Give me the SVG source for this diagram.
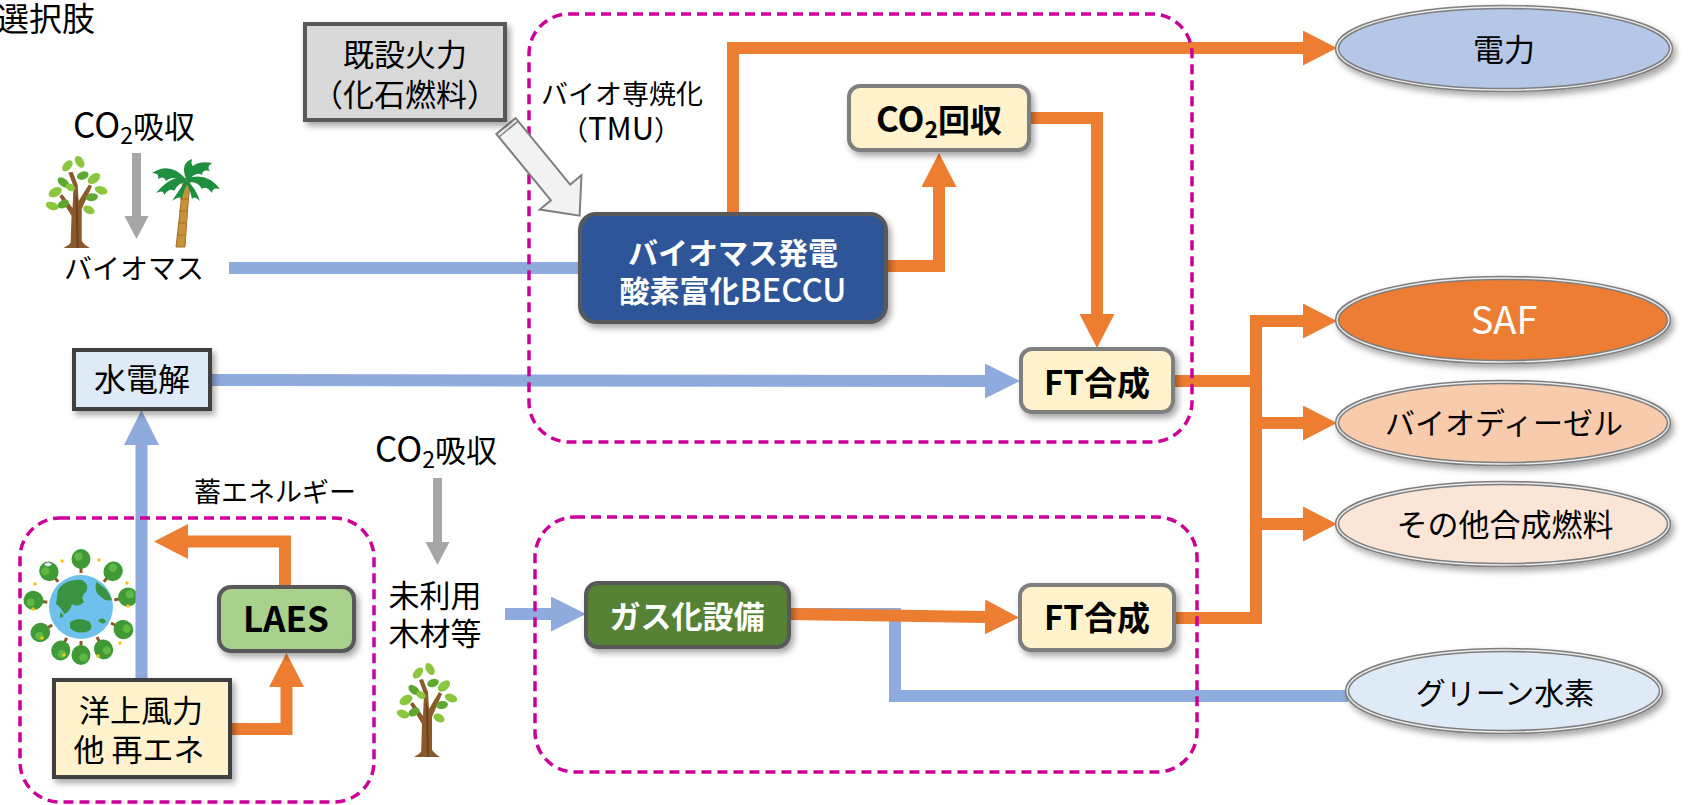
<svg xmlns="http://www.w3.org/2000/svg" xmlns:xlink="http://www.w3.org/1999/xlink" width="1688" height="805" viewBox="0 0 1688 805">
  <style>
    text { font-family: "Noto Sans CJK JP", "Noto Sans", sans-serif; fill: #000; }
    .c { text-anchor: middle; }
    .b { font-weight: bold; }
    .w { fill: #fff; }
    .or { fill: none; stroke: #ed7d31; stroke-width: 12; }
    .bl { fill: none; stroke: #8faadc; stroke-width: 12; }
    .gr { fill: none; stroke: #a6a6a6; stroke-width: 9; }
    .zone { fill: none; stroke: #cc0099; stroke-width: 3.5; stroke-dasharray: 10 6; }
    .box { stroke: #595959; stroke-width: 4; filter: url(#sh); }
    .boxk { stroke: #404040; stroke-width: 4; filter: url(#sh); }
    .boxg { stroke: #7f7f7f; stroke-width: 4; filter: url(#sh); }
    .ell { stroke: #7f7f7f; stroke-width: 4.5; filter: url(#sh); }
    .ell2 { fill: none; stroke: #ececec; stroke-width: 1.4; }
    .leaf { fill: #8cc63f; }
    .leafd { fill: #5fa830; }
    .trunk { fill: #8b5a2b; }
  </style>
  <defs>
    <filter id="sh" x="-20%" y="-20%" width="140%" height="150%">
      <feDropShadow dx="3" dy="4" stdDeviation="3" flood-color="#000" flood-opacity="0.35"/>
    </filter>
    <marker id="hOr" markerUnits="userSpaceOnUse" markerWidth="36" markerHeight="36" refX="0" refY="17.5" orient="auto">
      <path d="M0,0 L34,17.5 L0,35 Z" fill="#ed7d31"/>
    </marker>
    <marker id="hBl" markerUnits="userSpaceOnUse" markerWidth="36" markerHeight="36" refX="0" refY="17.5" orient="auto">
      <path d="M0,0 L35,17.5 L0,35 Z" fill="#8faadc"/>
    </marker>
    <marker id="hGr" markerUnits="userSpaceOnUse" markerWidth="26" markerHeight="26" refX="0" refY="12" orient="auto">
      <path d="M0,0 L23,12 L0,24 Z" fill="#a6a6a6"/>
    </marker>
    <!-- broadleaf sapling, 60 x 95 -->
    <g id="tree">
      <path class="trunk" d="M24,95 L25,62 L13,42 L16,40 L26,54 L27,32 L22,18 L26,17 L31,30 L32,47 L42,30 L45,32 L35,55 L35,95 Z"/>
      <path class="trunk" d="M17,95 Q27,90 29,80 L32,80 Q34,90 43,95 Z"/>
      <path fill="#6b4220" d="M29,40 L30,95 L32,95 L31,45 Z"/>
      <ellipse class="leaf" cx="9" cy="38" rx="7" ry="4.5" transform="rotate(-30 9 38)"/>
      <ellipse class="leafd" cx="17" cy="28" rx="6.5" ry="4" transform="rotate(40 17 28)"/>
      <ellipse class="leaf" cx="21" cy="11" rx="6.5" ry="4" transform="rotate(-50 21 11)"/>
      <ellipse class="leaf" cx="33" cy="7" rx="6.5" ry="4" transform="rotate(60 33 7)"/>
      <ellipse class="leafd" cx="36" cy="21" rx="6" ry="4" transform="rotate(-20 36 21)"/>
      <ellipse class="leaf" cx="47" cy="24" rx="7" ry="4.5" transform="rotate(-40 47 24)"/>
      <ellipse class="leaf" cx="54" cy="36" rx="6.5" ry="4" transform="rotate(20 54 36)"/>
      <ellipse class="leafd" cx="45" cy="43" rx="6" ry="4" transform="rotate(-10 45 43)"/>
      <ellipse class="leaf" cx="6" cy="52" rx="6.5" ry="4" transform="rotate(20 6 52)"/>
      <ellipse class="leafd" cx="17" cy="50" rx="6" ry="4" transform="rotate(-30 17 50)"/>
      <ellipse class="leaf" cx="42" cy="56" rx="6" ry="4" transform="rotate(30 42 56)"/>
      <ellipse class="leaf" cx="24" cy="33" rx="5" ry="3.5" transform="rotate(30 24 33)"/>
    </g>
    <!-- palm, 70 x 88 -->
    <g id="palm">
      <path d="M26,88 Q30,55 33,22 L40,22 Q37,55 35,88 Z" fill="#c8923a" stroke="#a36f24" stroke-width="1"/>
      <path d="M30,40 L38,40 M29,52 L37,52 M28,64 L36,64 M27,76 L36,76" stroke="#a36f24" stroke-width="1.2"/>
      <g fill="#1e8f3e">
        <path d="M36,20 Q20,2 2,14 Q10,14 8,20 Q14,16 16,22 Q22,16 36,22 Z"/>
        <path d="M36,20 Q24,14 6,34 Q14,30 14,36 Q20,28 24,32 Q28,24 36,23 Z"/>
        <path d="M36,20 Q40,0 62,4 Q56,8 60,12 Q52,10 52,16 Q46,12 38,22 Z"/>
        <path d="M36,20 Q56,12 70,30 Q62,28 62,34 Q56,26 52,30 Q48,22 38,23 Z"/>
        <path d="M36,20 Q30,4 42,0 Q40,8 46,8 Q38,12 38,22 Z"/>
        <path d="M36,21 Q30,30 22,42 Q30,36 32,40 Q34,30 38,24 Z"/>
        <path d="M37,21 Q46,30 50,42 Q44,36 42,40 Q40,30 36,24 Z"/>
      </g>
    </g>
    <!-- small tree around the globe, stem pointing down toward the globe -->
    <g id="gtree">
      <rect x="8" y="12" width="3" height="11" fill="#8b5a2b"/>
      <ellipse cx="9.5" cy="9" rx="9.5" ry="10" fill="#3f9a36"/>
      <ellipse cx="7" cy="6.5" rx="4" ry="4" fill="#62b845"/>
    </g>
  </defs>

  <!-- title -->
  <text x="-4" y="31" font-size="33">選択肢</text>

  <!-- pictures -->
  <g id="pics">
    <use xlink:href="#tree" transform="translate(46,155) scale(1.02,0.98)"/>
    <use xlink:href="#palm" transform="translate(150,159)"/>
    <use xlink:href="#tree" transform="translate(397,662)"/>
    <g id="globe">
      <use xlink:href="#gtree" transform="translate(71.5,550)"/>
      <use xlink:href="#gtree" transform="rotate(-42 81 607) translate(71.5,550)"/>
      <use xlink:href="#gtree" transform="rotate(42 81 607) translate(71.5,550)"/>
      <use xlink:href="#gtree" transform="rotate(-82 81 607) translate(71.5,550)"/>
      <use xlink:href="#gtree" transform="rotate(78 81 607) translate(71.5,550)"/>
      <use xlink:href="#gtree" transform="rotate(-122 81 607) translate(71.5,550)"/>
      <use xlink:href="#gtree" transform="rotate(118 81 607) translate(71.5,550)"/>
      <use xlink:href="#gtree" transform="rotate(-155 81 607) translate(71.5,550)"/>
      <use xlink:href="#gtree" transform="rotate(180 81 607) translate(71.5,550)"/>
      <use xlink:href="#gtree" transform="rotate(152 81 607) translate(71.5,550)"/>
      <circle cx="81" cy="607" r="32" fill="#6ec1ec"/>
      <path d="M58,590 Q66,578 82,580 Q90,584 86,592 Q80,596 84,602 Q78,608 72,604 Q70,612 64,614 Q60,606 56,604 Z" fill="#3a9340"/>
      <path d="M96,582 Q108,588 112,600 Q106,602 100,596 Q94,592 96,582 Z" fill="#3a9340"/>
      <path d="M70,622 Q80,616 90,622 Q94,630 86,632 Q76,634 70,628 Z" fill="#3a9340"/>
      <path d="M98,620 Q104,616 106,622 Q102,626 98,620 Z" fill="#3a9340"/>
      <path d="M60,612 L64,616 L60,618 Z" fill="#3a9340"/>
      <g fill="#f5c518">
        <circle cx="62" cy="561" r="1.8"/><circle cx="99" cy="560" r="1.8"/>
        <circle cx="35" cy="584" r="1.8"/><circle cx="127" cy="583" r="1.8"/>
        <circle cx="33" cy="609" r="1.8"/><circle cx="128" cy="606" r="1.8"/>
        <circle cx="42" cy="638" r="1.8"/><circle cx="120" cy="643" r="1.8"/>
        <circle cx="64" cy="655" r="1.8"/><circle cx="98" cy="656" r="1.8"/>
      </g>
      <path d="M44,564 q4,-3 8,0 q-2,3 -6,2 z" fill="#fff" stroke="#aaa" stroke-width="0.8"/>
    </g>
  </g>

  <!-- connectors -->
  <g id="connectors">
    <!-- orange flows -->
    <path class="or" d="M733,214 V48 H1303" marker-end="url(#hOr)"/>
    <path class="or" d="M886,266 H939 V187" marker-end="url(#hOr)"/>
    <path class="or" d="M1029,118 H1097 V314" marker-end="url(#hOr)"/>
    <path class="or" d="M1173,381 H1256"/>
    <path class="or" d="M1256,315 V624"/>
    <path class="or" d="M1174,618 H1256"/>
    <path class="or" d="M1250,321 H1303" marker-end="url(#hOr)"/>
    <path class="or" d="M1250,423 H1303" marker-end="url(#hOr)"/>
    <path class="or" d="M1250,524 H1303" marker-end="url(#hOr)"/>
    <path class="or" d="M285,587 V541.5 H188" marker-end="url(#hOr)"/>
    <path class="or" d="M230,729 H286.5 V687" marker-end="url(#hOr)"/>
    <!-- blue flows -->
    <path class="bl" d="M229,268 H581"/>
    <path class="bl" d="M210,380 L985,381" marker-end="url(#hBl)"/>
    <path class="bl" d="M141.5,680 V445" marker-end="url(#hBl)"/>
    <path class="bl" d="M505,614 H551" marker-end="url(#hBl)"/>
    <path class="bl" d="M789,614 H895 V696 H1348"/>
    <path class="or" d="M789,614 L985,617" marker-end="url(#hOr)"/>
    <!-- CO2 uptake -->
    <path class="gr" d="M136.5,153 V216" marker-end="url(#hGr)"/>
    <path class="gr" d="M437.5,478 V542" marker-end="url(#hGr)"/>
  </g>

  <!-- dashed groupings -->
  <g id="zones">
    <rect class="zone" x="529" y="14" width="663" height="428" rx="40"/>
    <rect class="zone" x="535" y="517" width="662" height="255" rx="40"/>
    <rect class="zone" x="20" y="518" width="354" height="284" rx="40"/>
  </g>

  <!-- block arrow from existing thermal plant -->
  <g id="retrofit-arrow" transform="translate(506,126) rotate(50.6)">
    <path d="M0,-12.5 L86,-12.5 L86,-27 L116,0 L86,27 L86,12.5 L0,12.5 Z" fill="#f2f2f2" stroke="#7f7f7f" stroke-width="2" stroke-linejoin="miter"/>
    <path d="M4,-12.5 V12.5" stroke="#7f7f7f" stroke-width="1.5"/>
  </g>

  <!-- nodes -->
  <g id="n-kisetsu">
    <rect class="box" x="305" y="24" width="200" height="96" fill="#d9d9d9"/>
    <text class="c" x="405" y="66" font-size="31">既設火力</text>
    <text class="c" x="405" y="106" font-size="31">（化石燃料）</text>
  </g>
  <g id="n-senshoka">
    <text class="c" x="622" y="104" font-size="27">バイオ専焼化</text>
    <text class="c" x="621" y="140" font-size="27">（<tspan font-size="31">TMU</tspan>）</text>
  </g>
  <g id="n-co2-top">
    <text class="c" x="134" y="138" font-size="31"><tspan font-size="35">CO</tspan><tspan font-size="23" dy="6">2</tspan><tspan dy="-6">吸収</tspan></text>
  </g>
  <g id="n-biomass">
    <text class="c" x="134" y="279" font-size="28">バイオマス</text>
  </g>
  <g id="n-beccu">
    <rect class="box" x="580" y="214" width="306" height="108" rx="16" fill="#2f5597"/>
    <text class="c w b" x="733" y="264" font-size="30">バイオマス発電</text>
    <text class="c w b" x="733" y="302" font-size="30">酸素富化<tspan font-size="33" font-weight="500">BECCU</tspan></text>
  </g>
  <g id="n-co2cap">
    <rect class="boxg" x="849" y="86" width="180" height="64" rx="11" fill="#fff2cc"/>
    <text class="c b" x="939" y="132" font-size="32"><tspan font-size="35">CO</tspan><tspan font-size="23" dy="6">2</tspan><tspan dy="-6">回収</tspan></text>
  </g>
  <g id="n-ft1">
    <rect class="boxg" x="1021" y="349" width="152" height="63" rx="11" fill="#fff2cc"/>
    <text class="c b" x="1097" y="395" font-size="33">FT合成</text>
  </g>
  <g id="n-denryoku">
    <ellipse class="ell" cx="1504" cy="48.5" rx="167" ry="41.5" fill="#b4c7e7"/>
    <ellipse class="ell2" cx="1504" cy="48.5" rx="167" ry="41.5"/>
    <text class="c" x="1504" y="61" font-size="31">電力</text>
  </g>
  <g id="n-saf">
    <ellipse class="ell" cx="1503" cy="320" rx="166" ry="42" fill="#ed7d31"/>
    <ellipse class="ell2" cx="1503" cy="320" rx="166" ry="42"/>
    <text class="c w" x="1504" y="334" font-size="38">SAF</text>
  </g>
  <g id="n-biodiesel">
    <ellipse class="ell" cx="1503" cy="423" rx="166" ry="41" fill="#f8cbad"/>
    <ellipse class="ell2" cx="1503" cy="423" rx="166" ry="41"/>
    <text class="c" x="1504" y="434" font-size="30">バイオディーゼル</text>
  </g>
  <g id="n-synfuel">
    <ellipse class="ell" cx="1503" cy="524" rx="166" ry="41" fill="#fbe5d6"/>
    <ellipse class="ell2" cx="1503" cy="524" rx="166" ry="41"/>
    <text class="c" x="1505" y="536" font-size="31">その他合成燃料</text>
  </g>
  <g id="n-electrolysis">
    <rect class="boxk" x="74" y="350" width="136" height="59" fill="#deebf7"/>
    <text class="c" x="142" y="391" font-size="32">水電解</text>
  </g>
  <g id="n-storage-label">
    <text class="c" x="275" y="502" font-size="27">蓄エネルギー</text>
  </g>
  <g id="n-laes">
    <rect class="box" x="219" y="587" width="135" height="64" rx="12" fill="#a9d18e"/>
    <text class="c b" x="286" y="632" font-size="35">LAES</text>
  </g>
  <g id="n-offshore">
    <rect class="boxk" x="54" y="680" width="176" height="97" fill="#fff2cc"/>
    <text class="c" x="141" y="722" font-size="31">洋上風力</text>
    <text class="c" x="139" y="761" font-size="31">他 再エネ</text>
  </g>
  <g id="n-co2-low">
    <text class="c" x="436" y="462" font-size="31"><tspan font-size="35">CO</tspan><tspan font-size="23" dy="6">2</tspan><tspan dy="-6">吸収</tspan></text>
  </g>
  <g id="n-wood">
    <text class="c" x="435" y="607" font-size="31">未利用</text>
    <text class="c" x="435" y="645" font-size="31">木材等</text>
  </g>
  <g id="n-gasifier">
    <rect class="box" x="586" y="583" width="203" height="64" rx="12" fill="#548235"/>
    <text class="c w b" x="687" y="628" font-size="31">ガス化設備</text>
  </g>
  <g id="n-ft2">
    <rect class="boxg" x="1020" y="585" width="154" height="65" rx="11" fill="#fff2cc"/>
    <text class="c b" x="1097" y="630" font-size="33">FT合成</text>
  </g>
  <g id="n-h2">
    <ellipse class="ell" cx="1504" cy="691" rx="157" ry="41" fill="#deebf7"/>
    <ellipse class="ell2" cx="1504" cy="691" rx="157" ry="41"/>
    <text class="c" x="1505" y="704" font-size="30">グリーン水素</text>
  </g>
</svg>
